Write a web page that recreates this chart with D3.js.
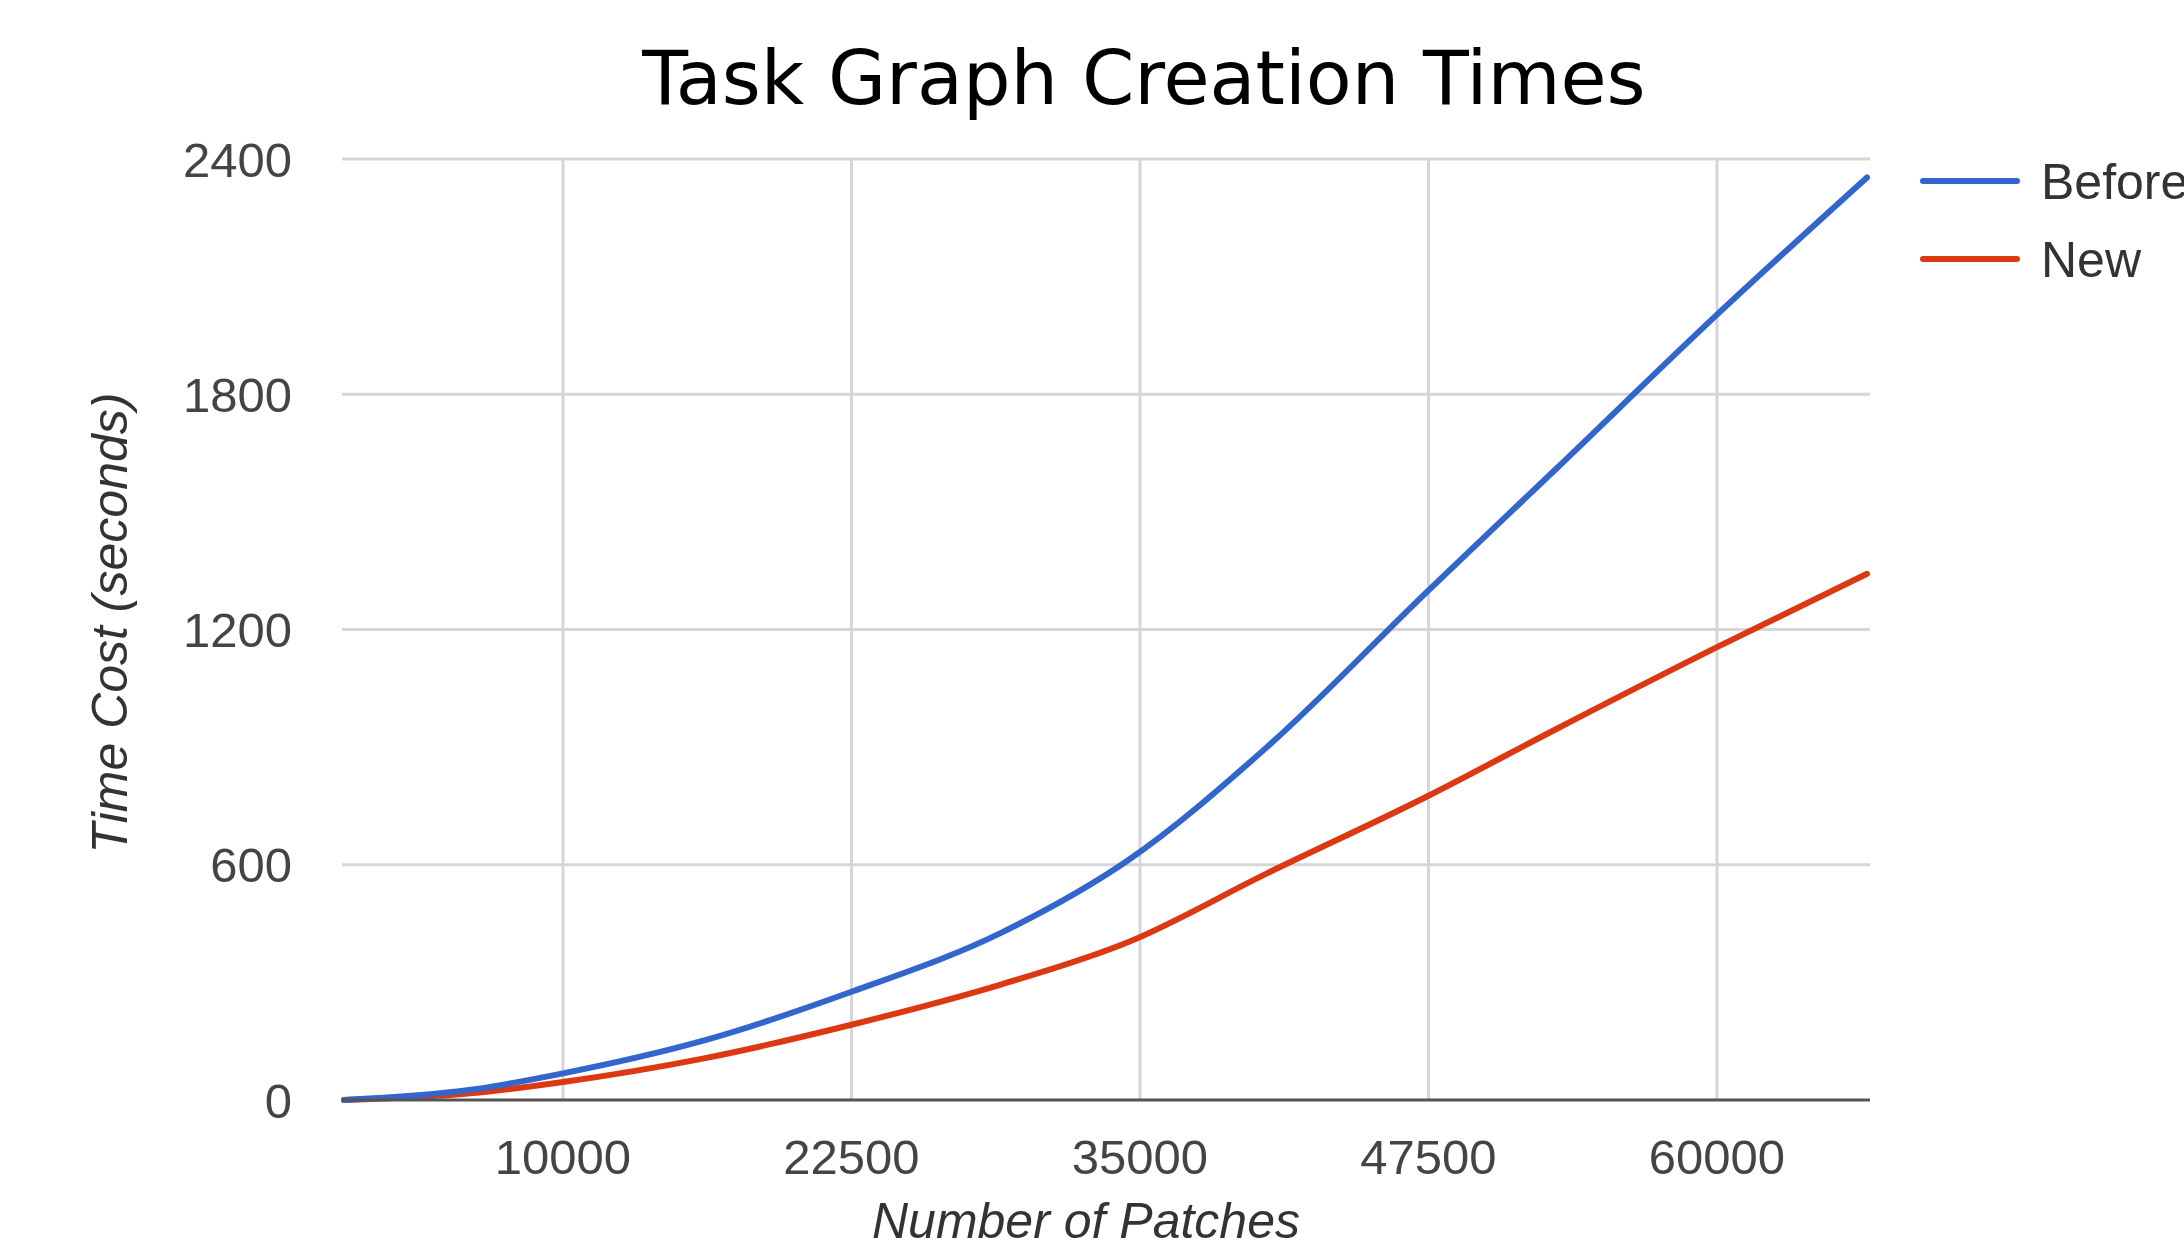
<!DOCTYPE html>
<html>
<head>
<meta charset="utf-8">
<script src="https://cdn.jsdelivr.net/npm/d3@7"></script>
<style>
  html, body { margin: 0; padding: 0; background: #fff; overflow: hidden; }
  .tick-label { font-family: "Liberation Sans", Arial, sans-serif; font-size: 49px; fill: #444; }
  .axis-title { font-family: "Liberation Sans", Arial, sans-serif; font-size: 50px; font-style: italic; fill: #333; }
  .legend-label { font-family: "Liberation Sans", Arial, sans-serif; font-size: 50px; fill: #333; }
</style>
</head>
<body>
<div id="chart"></div>
<script>
(function() {
    // values
    const patches = [512, 6000, 10000, 16000, 22500, 29000, 34500, 40500, 47500, 53000, 60000, 66500];
    const before  = [0, 26, 68, 150, 276, 427, 612, 900, 1300, 1608, 2003, 2353];
    const newer   = [0, 17, 46, 105, 192, 295, 403, 578, 776, 945, 1155, 1342];
    const seriesNames = ["Before", "New"];
    const seriesColors = ["#3366cc", "#dc3912"];
    const xTicks = [10000, 22500, 35000, 47500, 60000];
    const yTicks = [0, 600, 1200, 1800, 2400];
    const xDomain = [425, 66630];
    const yDomain = [0, 2400];

    const W = 2184, H = 1251;
    const plot = { left: 342, right: 1870, top: 159, bottom: 1100 };

    const svg = d3.select("#chart")
        .append("svg")
        .attr("width", W)
        .attr("height", H);

    const x = d3.scaleLinear().domain(xDomain).range([plot.left, plot.right]);
    const y = d3.scaleLinear().domain(yDomain).range([plot.bottom, plot.top]);

    // horizontal gridlines
    svg.append("g")
        .selectAll("line")
        .data(yTicks.filter(d => d !== 0))
        .enter().append("line")
        .attr("x1", plot.left)
        .attr("x2", plot.right)
        .attr("y1", d => y(d))
        .attr("y2", d => y(d))
        .attr("stroke", "#d6d6d6")
        .attr("stroke-width", 3);

    // vertical gridlines
    svg.append("g")
        .selectAll("line")
        .data(xTicks)
        .enter().append("line")
        .attr("x1", d => x(d))
        .attr("x2", d => x(d))
        .attr("y1", plot.top)
        .attr("y2", plot.bottom)
        .attr("stroke", "#d6d6d6")
        .attr("stroke-width", 3);

    // y tick labels
    svg.append("g")
        .selectAll("text")
        .data(yTicks)
        .enter().append("text")
        .attr("class", "tick-label")
        .attr("x", 292)
        .attr("y", d => y(d))
        .attr("dy", "0.36em")
        .attr("text-anchor", "end")
        .text(d => d);

    // x tick labels
    svg.append("g")
        .selectAll("text")
        .data(xTicks)
        .enter().append("text")
        .attr("class", "tick-label")
        .attr("x", d => x(d))
        .attr("y", 1174)
        .attr("text-anchor", "middle")
        .text(d => d);

    // lines
    const rows = patches.map((p, i) => ({ p: p, v: [before[i], newer[i]] }));
    const line = k => d3.line()
        .x(d => x(d.p))
        .y(d => y(d.v[k]))
        .curve(d3.curveMonotoneX);

    [1, 0].forEach(k => {
        svg.append("path")
            .datum(rows)
            .attr("d", line(k))
            .attr("fill", "none")
            .attr("stroke", seriesColors[k])
            .attr("stroke-width", 6)
            .attr("stroke-linecap", "round")
            .attr("stroke-linejoin", "round");
    });

    // baseline
    svg.append("line")
        .attr("x1", plot.left)
        .attr("x2", plot.right)
        .attr("y1", y(0))
        .attr("y2", y(0))
        .attr("stroke", "#555")
        .attr("stroke-width", 3);

    // title
    svg.append("text")
        .attr("x", 1144)
        .attr("y", 104)
        .attr("text-anchor", "middle")
        .style("font-family", "'DejaVu Sans', sans-serif")
        .style("font-size", "75px")
        .style("fill", "#000")
        .text("Task Graph Creation Times");

    // axis titles
    svg.append("text")
        .attr("class", "axis-title")
        .attr("x", 1086)
        .attr("y", 1238)
        .attr("text-anchor", "middle")
        .text("Number of Patches");

    svg.append("text")
        .attr("class", "axis-title")
        .attr("transform", "translate(127,623) rotate(-90)")
        .attr("text-anchor", "middle")
        .text("Time Cost (seconds)");

    // legend
    const legend = svg.append("g")
        .selectAll("g")
        .data(seriesNames)
        .enter().append("g")
        .attr("transform", (d, i) => `translate(0,${181 + i * 78})`);

    legend.append("line")
        .attr("x1", 1923)
        .attr("x2", 2017)
        .attr("stroke", (d, i) => seriesColors[i])
        .attr("stroke-width", 6)
        .attr("stroke-linecap", "round");

    legend.append("text")
        .attr("class", "legend-label")
        .attr("x", 2041)
        .attr("dy", "0.36em")
        .text(d => d);
})();
</script>
</body>
</html>
